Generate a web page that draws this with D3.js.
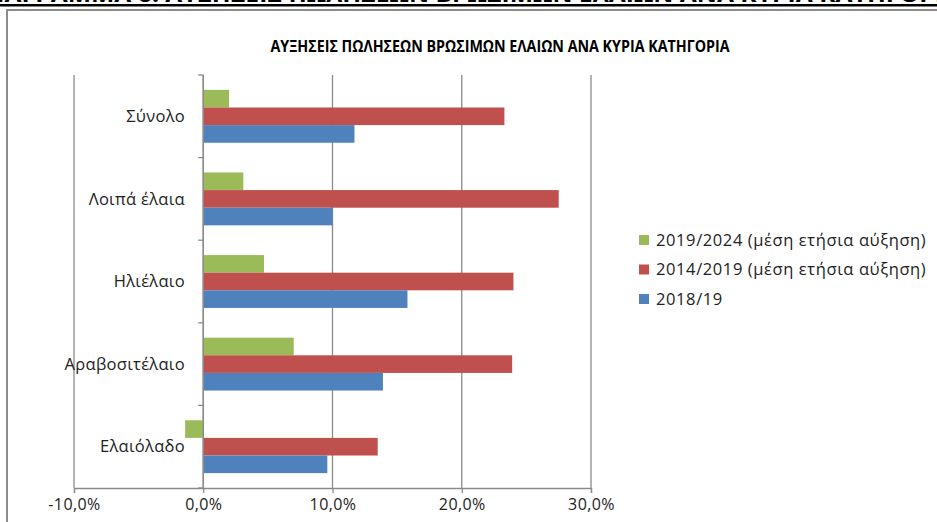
<!DOCTYPE html>
<html><head><meta charset="utf-8">
<script src="https://cdn.jsdelivr.net/npm/d3@7"></script>
<style>body{margin:0;background:#fff}svg{display:block}text{font-family:"Open Sans","DejaVu Sans",sans-serif}</style>
</head><body><svg id="c" width="937" height="522"></svg>
<script>
const categories = ["Σύνολο","Λοιπά έλαια","Ηλιέλαιο","Αραβοσιτέλαιο","Ελαιόλαδο"];
const seriesNames = ["2019/2024 (μέση ετήσια αύξηση)","2014/2019 (μέση ετήσια αύξηση)","2018/19"];
const s2019_2024 = [2.0, 3.1, 4.7, 7.0, -1.4];
const s2014_2019 = [23.3, 27.5, 24.0, 23.9, 13.5];
const s2018_19  = [11.7, 10.0, 15.8, 13.9, 9.6];
const xTicks = [-10, 0, 10, 20, 30];
const colors = ["#9BBB59","#C0504D","#4F81BD"];
const title = "ΑΥΞΗΣΕΙΣ ΠΩΛΗΣΕΩΝ ΒΡΩΣΙΜΩΝ ΕΛΑΙΩΝ ΑΝΑ ΚΥΡΙΑ ΚΑΤΗΓΟΡΙΑ";
const topHeading = "ΔΙΑΓΡΑΜΜΑ 6: ΑΥΞΗΣΕΙΣ ΠΩΛΗΣΕΩΝ ΒΡΩΣΙΜΩΝ ΕΛΑΙΩΝ ΑΝΑ ΚΥΡΙΑ ΚΑΤΗΓΟΡΙΑ";

const series = [s2019_2024, s2014_2019, s2018_19];
const svg = d3.select("#c");

// clipped page heading (only its bottom edge is visible, as in the reference)
svg.append("text").attr("x", -20).attr("y", 1.5).attr("font-weight","bold").attr("font-size",20)
  .attr("fill","#000").attr("textLength", 980).attr("lengthAdjust","spacingAndGlyphs").text(topHeading);
svg.append("rect").attr("x",0).attr("y",4).attr("width",937).attr("height",2.5).attr("fill","#000");

// chart border
svg.append("rect").attr("x",7).attr("y",10).attr("width",960).attr("height",540)
  .attr("fill","none").attr("stroke","#8c8c8c").attr("stroke-width",2);

const x = d3.scaleLinear().domain([-10,30]).range([74,591]);
const y = d3.scaleBand().domain(categories).range([75,488]).paddingInner(0.36).paddingOuter(0.18);
const yi = d3.scaleBand().domain([0,1,2]).range([0,y.bandwidth()]);

// gridlines
svg.append("g").selectAll("line").data(xTicks).join("line")
  .attr("x1",d=>x(d)).attr("x2",d=>x(d)).attr("y1",75).attr("y2",488)
  .attr("stroke","#8a8a8a").attr("stroke-width",1.3);

// bars
series.forEach((vals,si)=>{
  svg.append("g").selectAll("rect").data(vals).join("rect")
    .attr("x",(d)=>x(Math.min(0,d)))
    .attr("width",d=>Math.abs(x(d)-x(0)))
    .attr("y",(d,i)=>y(categories[i])+yi(si))
    .attr("height",yi.bandwidth())
    .attr("fill",colors[si]);
});

// x axis
const xAxis = d3.axisBottom(x).tickValues(xTicks).tickSize(5).tickPadding(6)
  .tickFormat(d=>d.toFixed(1).replace(".",",")+"%");
const gx = svg.append("g").attr("transform","translate(0,488)").call(xAxis);
gx.select(".domain").attr("stroke","#8a8a8a").attr("stroke-width",1.3);
gx.selectAll(".tick line").attr("stroke","#8a8a8a").attr("stroke-width",1.3);
gx.selectAll("text").attr("font-size",16).attr("letter-spacing",0.4).attr("fill","#222")
  .attr("font-family","'Open Sans',sans-serif");

// y axis at zero
const yBound = d3.scalePoint().domain(d3.range(categories.length+1)).range([75,488]);
svg.append("line").attr("x1",x(0)).attr("x2",x(0)).attr("y1",75).attr("y2",488).attr("stroke","#8a8a8a").attr("stroke-width",1.3);
svg.append("g").selectAll("line").data(d3.range(categories.length+1)).join("line")
  .attr("x1",x(0)-5).attr("x2",x(0)).attr("y1",d=>yBound(d)).attr("y2",d=>yBound(d))
  .attr("stroke","#8a8a8a").attr("stroke-width",1.3);
svg.append("g").selectAll("text").data(categories).join("text")
  .attr("x",185).attr("y",d=>y(d)+y.bandwidth()/2).attr("dy","0.35em")
  .attr("text-anchor","end").attr("font-size",16.5).attr("letter-spacing",0.3).attr("fill","#222").text(d=>d);

// title
svg.append("text").attr("x",500).attr("y",46).attr("dy","0.35em").attr("text-anchor","middle")
  .attr("font-weight","bold").attr("font-size",16.5).attr("fill","#000")
  .attr("textLength",459).attr("lengthAdjust","spacingAndGlyphs").text(title);

// legend
const lg = svg.append("g");
const ly = [240, 269.5, 299];
seriesNames.forEach((n,i)=>{
  lg.append("rect").attr("x",639).attr("y",ly[i]-5).attr("width",10).attr("height",10).attr("fill",colors[i]);
  lg.append("text").attr("x",656).attr("y",ly[i]).attr("dy","0.35em").attr("font-size",16.5)
    .attr("letter-spacing",0.6).attr("fill","#222").text(n);
});
</script></body></html>
